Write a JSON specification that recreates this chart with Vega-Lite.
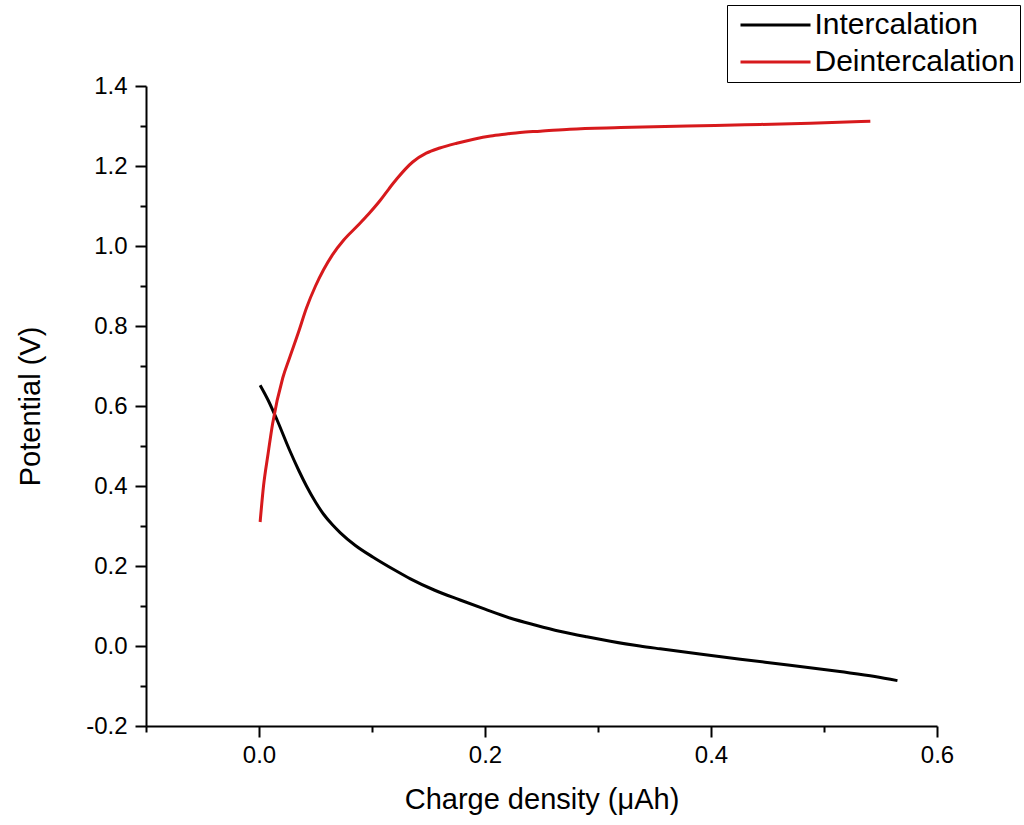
{
  "$schema": "https://vega.github.io/schema/vega-lite/v6.json",
  "width": 791,
  "height": 640,
  "autosize": {"type": "none"},
  "padding": {"left": 146, "top": 86, "right": 87, "bottom": 99},
  "background": "white",
  "config": {
    "view": {"stroke": null},
    "font": "Liberation Sans",
    "axis": {
      "grid": false,
      "domainColor": "black",
      "domainWidth": 2,
      "tickColor": "black",
      "tickWidth": 2,
      "labelColor": "black",
      "titleColor": "black",
      "labelFont": "Liberation Sans",
      "titleFont": "Liberation Sans",
      "labelFontSize": 24,
      "titleFontSize": 29,
      "titleFontWeight": "normal"
    }
  },
  "data": {
    "values": [
      {"series": "Intercalation", "q": 0.001, "v": 0.652},
      {"series": "Intercalation", "q": 0.008, "v": 0.615},
      {"series": "Intercalation", "q": 0.016, "v": 0.565},
      {"series": "Intercalation", "q": 0.027, "v": 0.49},
      {"series": "Intercalation", "q": 0.035, "v": 0.44},
      {"series": "Intercalation", "q": 0.042, "v": 0.4},
      {"series": "Intercalation", "q": 0.05, "v": 0.36},
      {"series": "Intercalation", "q": 0.057, "v": 0.33},
      {"series": "Intercalation", "q": 0.065, "v": 0.303},
      {"series": "Intercalation", "q": 0.072, "v": 0.283},
      {"series": "Intercalation", "q": 0.085, "v": 0.252},
      {"series": "Intercalation", "q": 0.101, "v": 0.222},
      {"series": "Intercalation", "q": 0.12, "v": 0.19},
      {"series": "Intercalation", "q": 0.134, "v": 0.168},
      {"series": "Intercalation", "q": 0.155, "v": 0.14},
      {"series": "Intercalation", "q": 0.178, "v": 0.115},
      {"series": "Intercalation", "q": 0.2, "v": 0.092},
      {"series": "Intercalation", "q": 0.222, "v": 0.07},
      {"series": "Intercalation", "q": 0.245, "v": 0.052},
      {"series": "Intercalation", "q": 0.266, "v": 0.037},
      {"series": "Intercalation", "q": 0.29, "v": 0.023},
      {"series": "Intercalation", "q": 0.311, "v": 0.012},
      {"series": "Intercalation", "q": 0.337, "v": 0.0},
      {"series": "Intercalation", "q": 0.355, "v": -0.007},
      {"series": "Intercalation", "q": 0.39, "v": -0.02},
      {"series": "Intercalation", "q": 0.426, "v": -0.033},
      {"series": "Intercalation", "q": 0.47, "v": -0.048},
      {"series": "Intercalation", "q": 0.514, "v": -0.064},
      {"series": "Intercalation", "q": 0.545, "v": -0.076},
      {"series": "Intercalation", "q": 0.565, "v": -0.0865},
      {"series": "Deintercalation", "q": 0.001, "v": 0.31},
      {"series": "Deintercalation", "q": 0.004, "v": 0.4},
      {"series": "Deintercalation", "q": 0.008, "v": 0.48},
      {"series": "Deintercalation", "q": 0.012, "v": 0.555},
      {"series": "Deintercalation", "q": 0.021, "v": 0.67},
      {"series": "Deintercalation", "q": 0.027, "v": 0.72},
      {"series": "Deintercalation", "q": 0.035, "v": 0.785},
      {"series": "Deintercalation", "q": 0.042, "v": 0.845},
      {"series": "Deintercalation", "q": 0.05, "v": 0.9},
      {"series": "Deintercalation", "q": 0.057, "v": 0.94},
      {"series": "Deintercalation", "q": 0.065, "v": 0.978},
      {"series": "Deintercalation", "q": 0.075, "v": 1.015},
      {"series": "Deintercalation", "q": 0.087, "v": 1.05},
      {"series": "Deintercalation", "q": 0.097, "v": 1.08},
      {"series": "Deintercalation", "q": 0.107, "v": 1.113},
      {"series": "Deintercalation", "q": 0.115, "v": 1.143},
      {"series": "Deintercalation", "q": 0.122, "v": 1.168},
      {"series": "Deintercalation", "q": 0.136, "v": 1.21},
      {"series": "Deintercalation", "q": 0.148, "v": 1.232},
      {"series": "Deintercalation", "q": 0.16, "v": 1.245},
      {"series": "Deintercalation", "q": 0.175, "v": 1.257},
      {"series": "Deintercalation", "q": 0.19, "v": 1.267},
      {"series": "Deintercalation", "q": 0.205, "v": 1.275},
      {"series": "Deintercalation", "q": 0.219, "v": 1.28},
      {"series": "Deintercalation", "q": 0.231, "v": 1.284},
      {"series": "Deintercalation", "q": 0.249, "v": 1.287},
      {"series": "Deintercalation", "q": 0.275, "v": 1.292},
      {"series": "Deintercalation", "q": 0.32, "v": 1.296},
      {"series": "Deintercalation", "q": 0.379, "v": 1.3},
      {"series": "Deintercalation", "q": 0.43, "v": 1.303},
      {"series": "Deintercalation", "q": 0.488, "v": 1.307},
      {"series": "Deintercalation", "q": 0.541, "v": 1.312}
    ]
  },
  "mark": {"type": "line", "strokeWidth": 3, "interpolate": "monotone"},
  "encoding": {
    "x": {
      "field": "q",
      "type": "quantitative",
      "scale": {"domain": [-0.1, 0.6], "nice": false, "zero": false},
      "axis": {
        "title": "Charge density (μAh)",
        "values": [-0.1, 0, 0.1, 0.2, 0.3, 0.4, 0.5, 0.6],
        "labelExpr": "abs(round(datum.value * 10)) % 2 == 0 ? replace(format(datum.value, '.1f'), '−', '-') : ''",
        "tickSize": {"condition": {"test": "abs(round(datum.value * 10)) % 2 == 0", "value": 11}, "value": 6},
        "labelFontSize": 24,
        "labelPadding": 6,
        "titlePadding": 18,
        "labelFlush": false
      }
    },
    "y": {
      "field": "v",
      "type": "quantitative",
      "scale": {"domain": [-0.2, 1.4], "nice": false, "zero": false},
      "axis": {
        "title": "Potential (V)",
        "values": [-0.2, -0.1, 0, 0.1, 0.2, 0.3, 0.4, 0.5, 0.6, 0.7, 0.8, 0.9, 1.0, 1.1, 1.2, 1.3, 1.4],
        "labelExpr": "abs(round(datum.value * 10)) % 2 == 0 ? replace(format(datum.value, '.1f'), '−', '-') : ''",
        "tickSize": {"condition": {"test": "abs(round(datum.value * 10)) % 2 == 0", "value": 11}, "value": 6},
        "labelFontSize": 24,
        "labelPadding": 8,
        "titlePadding": 40,
        "labelFlush": false
      }
    },
    "color": {
      "field": "series",
      "type": "nominal",
      "scale": {"domain": ["Intercalation", "Deintercalation"], "range": ["#000000", "#d7191c"]},
      "legend": {
        "orient": "none",
        "legendX": 581,
        "legendY": -81,
        "title": null,
        "symbolType": "M-3.5,0H3.5",
        "symbolSize": 400,
        "symbolStrokeWidth": 3,
        "symbolOffset": 28.5,
        "labelOffset": 24,
        "labelFontSize": 30,
        "labelFont": "Liberation Sans",
        "labelColor": "black",
        "rowPadding": 7,
        "padding": 5,
        "strokeColor": "black",
        "labelLimit": 400
      }
    }
  }
}
